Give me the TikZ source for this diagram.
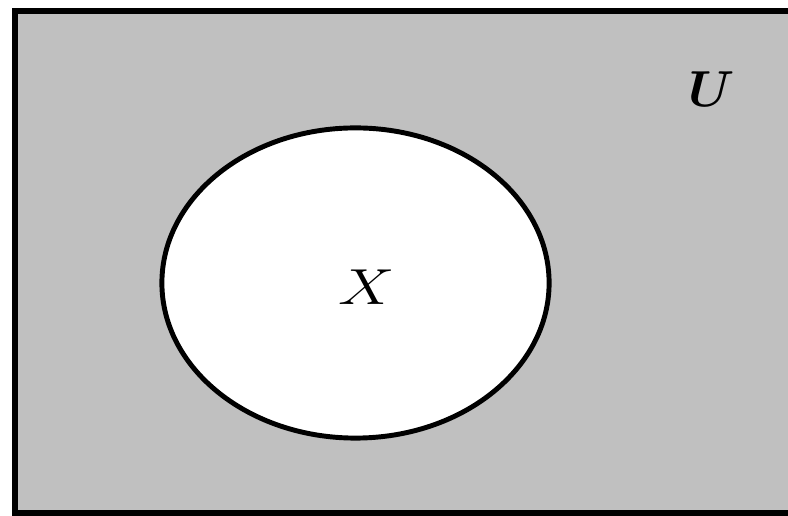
\documentclass[tikz,border=0pt]{standalone}
\usepackage{amsmath,amssymb}
\usepackage{xcolor}
\usetikzlibrary{positioning,shapes.geometric}
\definecolor{venngray}{RGB}{192,192,192}

\begin{document}
\begin{tikzpicture}[
  x=0.01cm, y=-0.01cm,
  universe/.style={draw,line width=1.7pt,fill=venngray,minimum width=7.85cm,minimum height=5.02cm,inner sep=0pt},
  subset/.style={draw,ellipse,line width=1.4pt,fill=white,minimum width=3.87cm,minimum height=3.10cm,inner sep=0pt},
  lbl/.style={font=\fontsize{15}{15}\selectfont,inner sep=0pt}
]
  % page
  \clip (0,0) rectangle (788,516);
  \fill[white] (0,0) rectangle (788,516);

  % universe
  \node[universe] (U) at (407.5,262) {};
  \node[lbl] (Ulabel) at (712,89) {$\boldsymbol{U}$};

  % set X
  \node[subset] (X) at (355.5,283) {};
  \node[lbl,xscale=1.25] (Xlabel) at (367,287) {$X$};
\end{tikzpicture}
\end{document}
